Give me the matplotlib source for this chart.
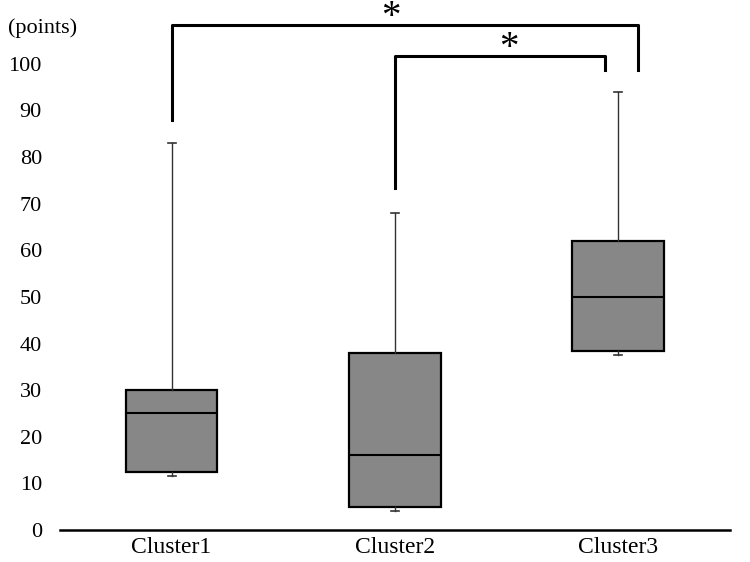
import matplotlib
matplotlib.use('Agg')
from matplotlib import pyplot as plt

# Box plot values (points)
clusters = ['Cluster1', 'Cluster2', 'Cluster3']
whislo = [11.5, 4.0, 37.5]
q1 = [12.5, 5.0, 38.5]
med = [25.0, 16.0, 50.0]
q3 = [30.0, 38.0, 62.0]
whishi = [83.0, 68.0, 94.0]
yticks = [0, 10, 20, 30, 40, 50, 60, 70, 80, 90, 100]

plt.rcParams['font.family'] = ['Liberation Serif', 'DejaVu Serif']

stats = []
for i, name in enumerate(clusters):
	stats.append({'label': name, 'whislo': whislo[i], 'q1': q1[i], 'med': med[i],
		'q3': q3[i], 'whishi': whishi[i], 'fliers': []})

fig = plt.figure(figsize=(7.5, 5.62), dpi=100)
ax = fig.add_axes([0.08, 0.057, 0.893, 0.943])

ax.bxp(stats, positions=[1, 2, 3], widths=0.41, patch_artist=True, showfliers=False,
	boxprops=dict(facecolor='#878787', edgecolor='black', linewidth=1.6),
	medianprops=dict(color='black', linewidth=1.5),
	whiskerprops=dict(color='#333333', linewidth=1.0),
	capprops=dict(color='#333333', linewidth=1.2), capwidths=0.035)

ax.set_xlim(0.5, 3.5)
ax.set_ylim(0, 113.7)
ax.set_yticks(yticks)
ax.set_xticks([1, 2, 3])
ax.set_xticklabels(clusters)
ax.tick_params(axis='y', length=0, pad=13, labelsize=16)
ax.tick_params(axis='x', length=0, pad=5, labelsize=17)
for s in ['top', 'right', 'left']:
	ax.spines[s].set_visible(False)
ax.spines['bottom'].set_linewidth(1.8)
ax.patch.set_alpha(0)

# Significance brackets
ax.plot([1, 1, 3.09, 3.09], [88, 108.4, 108.4, 98.7], color='black', lw=2.2, clip_on=False)
ax.plot([2, 2, 2.94, 2.94], [73.4, 101.7, 101.7, 98.7], color='black', lw=2.2, clip_on=False)
ax.text(1.98, 110.0, '*', ha='center', va='center', fontsize=28, clip_on=False)
ax.text(2.51, 103.2, '*', ha='center', va='center', fontsize=28, clip_on=False)

fig.text(8 / 750, 1 - 28 / 562, '(points)', ha='left', va='center', fontsize=16)

plt.savefig('out.png', dpi=100)
